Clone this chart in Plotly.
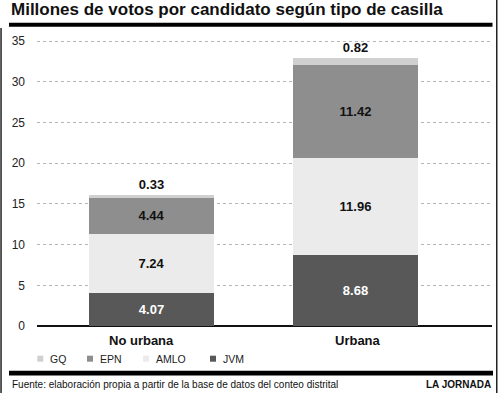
import plotly.graph_objects as go

categories = ["No urbana", "Urbana"]
series_names = ["JVM", "AMLO", "EPN", "GQ"]
jvm = [4.07, 8.68]
amlo = [7.24, 11.96]
epn = [4.44, 11.42]
gq = [0.33, 0.82]
y_ticks = [0, 5, 10, 15, 20, 25, 30, 35]

title_text = "Millones de votos por candidato según tipo de casilla"
source_text = "Fuente: elaboración propia a partir de la base de datos del conteo distrital"
brand_text = "LA JORNADA"

colors = {"JVM": "#585858", "AMLO": "#ebebeb", "EPN": "#8e8e8e", "GQ": "#d0d0d0"}
text_colors = {"JVM": "#ffffff", "AMLO": "#111111", "EPN": "#111111", "GQ": "#111111"}
values = {"JVM": jvm, "AMLO": amlo, "EPN": epn, "GQ": gq}

W, H = 500, 393
ML, MR, MT, MB = 37, 8, 33, 67
PW, PH = W - ML - MR, H - MT - MB
FONT = "Liberation Sans, Arial, Helvetica, sans-serif"


def px(x):
    return (x - ML) / PW


def py(y):
    return (H - MB - y) / PH


def box(x0, x1, y0, y1, color):
    return dict(type="rect", xref="paper", yref="paper", x0=px(x0), x1=px(x1),
                y0=py(y1), y1=py(y0), fillcolor=color, line=dict(width=0))


fig = go.Figure()
for name in series_names:
    top = name == "GQ"
    fig.add_trace(go.Bar(
        x=categories, y=values[name], name=name,
        marker=dict(color=colors[name], line=dict(width=0)),
        width=0.613,
        text=[f"{v:.2f}" for v in values[name]],
        textposition="outside" if top else "inside",
        insidetextanchor="middle",
        textangle=0,
        textfont=dict(family=FONT, size=13, color=text_colors[name], weight="bold"),
        cliponaxis=False,
        showlegend=False,
    ))

shapes = []
annotations = []

# title and rules
annotations.append(dict(text=f"<b>{title_text}</b>", xref="paper", yref="paper",
                        x=px(9), y=py(9.5), xanchor="left", yanchor="middle", showarrow=False,
                        font=dict(family=FONT, size=17, color="#111")))
shapes.append(box(9, 492.5, 22.7, 26.7, "black"))
shapes.append(box(9, 493, 370.8, 375.6, "black"))
shapes.append(box(0.3, 1.8, 28, 393, "#222"))
shapes.append(box(496, 497.5, 0, 393, "#222"))

# category labels
cat_shift = [-10, 2]
for c, s in zip(categories, cat_shift):
    annotations.append(dict(text=f"<b>{c}</b>", x=c, xref="x", yref="paper", y=py(340),
                            xanchor="center", yanchor="middle", xshift=s, showarrow=False,
                            font=dict(family=FONT, size=13, color="#111")))

# legend
legend_order = ["GQ", "EPN", "AMLO", "JVM"]
legend_sq_x = [37.3, 87, 143, 210]
for name, sx in zip(legend_order, legend_sq_x):
    shapes.append(box(sx, sx + 6, 355.7, 361.7, colors[name]))
    annotations.append(dict(text=name, xref="paper", yref="paper", x=px(sx + 11), y=py(358.5),
                            xanchor="left", yanchor="middle", showarrow=False,
                            font=dict(family=FONT, size=10.5, color="#222")))

# footer
annotations.append(dict(text=source_text, xref="paper", yref="paper", x=px(10), y=py(384),
                        xanchor="left", yanchor="middle", showarrow=False,
                        font=dict(family=FONT, size=10, color="#111")))
annotations.append(dict(text=f"<b>{brand_text}</b>", xref="paper", yref="paper", x=px(492.5), y=py(384),
                        xanchor="right", yanchor="middle", showarrow=False,
                        font=dict(family=FONT, size=10, color="#111")))

fig.update_layout(
    width=W, height=H,
    margin=dict(l=ML, r=MR, t=MT, b=MB, pad=0),
    barmode="stack",
    plot_bgcolor="white", paper_bgcolor="white",
    font=dict(family=FONT, color="#222"),
    shapes=shapes, annotations=annotations,
)
fig.update_xaxes(range=[-0.561, 1.669], showticklabels=False, showgrid=False,
                 showline=False, zeroline=False, ticks="")
fig.update_yaxes(range=[0, 36], tickvals=y_ticks, ticktext=[str(t) for t in y_ticks],
                 showgrid=True, gridcolor="#b5b5b5", griddash="3px,3px", gridwidth=1,
                 zeroline=True, zerolinecolor="#111", zerolinewidth=1.5,
                 showline=False, ticks="", ticklabelstandoff=11,
                 tickfont=dict(family=FONT, size=12, color="#222"))

fig.write_html("out.html", config={"displayModeBar": False},
               post_script="document.body.style.margin='0';document.body.style.overflow='hidden';")
